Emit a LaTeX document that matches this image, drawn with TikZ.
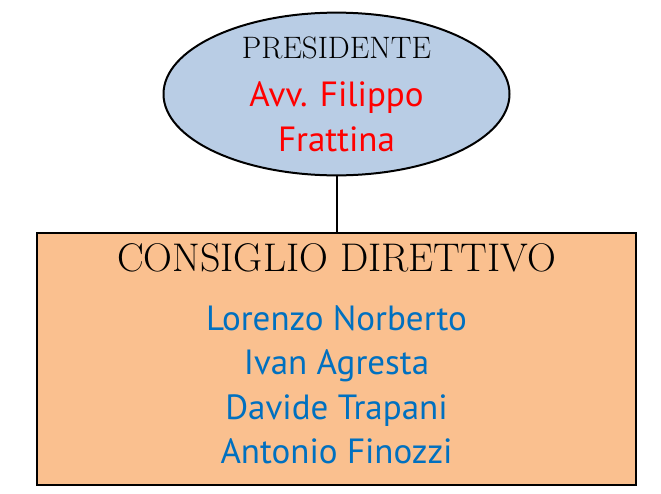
\documentclass[tikz,border=0pt]{standalone}
\usepackage{fontspec}
\setsansfont{PT Sans}
\usetikzlibrary{shapes, positioning}
\definecolor{presblue}{RGB}{185,205,229}
\definecolor{consorange}{RGB}{250,192,143}
\definecolor{nameblue}{RGB}{0,112,192}
\definecolor{namered}{RGB}{255,0,0}
\newcommand{\rolefont}[1]{\rmfamily\fontsize{#1}{#1}\selectfont\color{black}}
\newcommand{\namefont}{\sffamily\fontsize{35}{44.5}\selectfont}
\begin{document}
\begin{tikzpicture}[
x=1pt, y=1pt,
block/.style={draw=black, line width=2pt, align=center, inner sep=0pt, font=\namefont},
block-pres/.style={block, ellipse, fill=presblue, text=namered, minimum width=346, minimum height=157},
block-cons/.style={block, rectangle, fill=consorange, text=nameblue, minimum width=599, minimum height=252, text depth=11pt},
line/.style={draw, line width=2pt}
]
\useasboundingbox (0,0) rectangle (661,-493);
\node[block-pres] (pres) at (336.5,-94) {%
    \rolefont{31}PRESIDENTE\\[4pt]
    Avv. Filippo\\Frattina};
\node[block-cons, below=56 of pres] (cons) {%
    \rolefont{40}CONSIGLIO DIRETTIVO\\[14pt]
    Lorenzo Norberto\\Ivan Agresta\\Davide Trapani\\Antonio Finozzi};

\path [line] (pres) -- (cons);
\end{tikzpicture}
\end{document}
